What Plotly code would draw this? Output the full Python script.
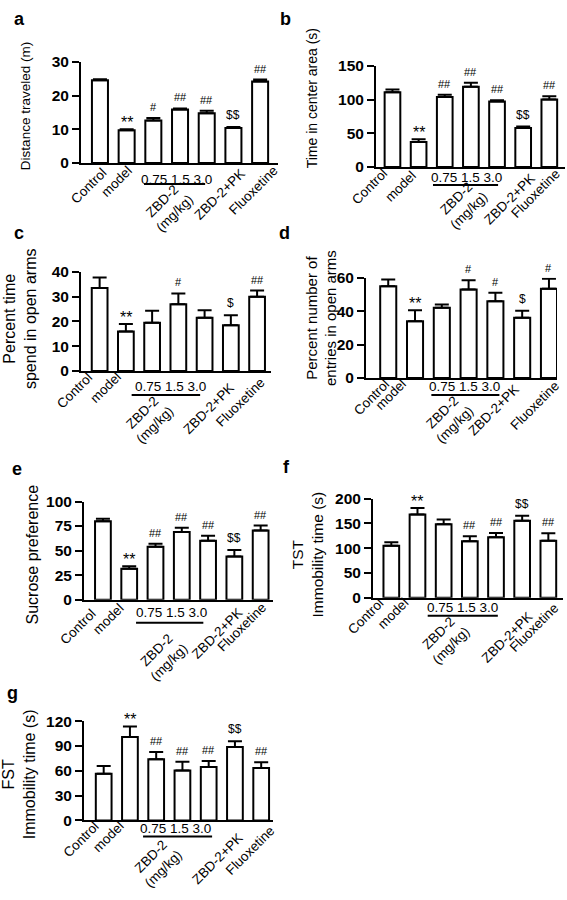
import plotly.graph_objects as go

groups = ["Control", "model", "0.75", "1.5", "3.0", "ZBD-2+PK", "Fluoxetine"]

# a: open field distance
dist_mean = [24.6, 9.7, 12.6, 15.9, 14.8, 10.4, 24.2]
dist_err = [0.3, 0.3, 0.8, 0.3, 0.7, 0.3, 0.6]
dist_sig = ["", "**", "#", "##", "##", "$$", "##"]
dist_ticks = [0, 10, 20, 30]

# b: time in center
center_mean = [111, 37, 104, 119, 97, 58, 100]
center_err = [4, 4, 3, 6, 2, 2, 5]
center_sig = ["", "**", "##", "##", "##", "$$", "##"]
center_ticks = [0, 50, 100, 150]

# c: percent time open arms
opentime_mean = [33.5, 16, 19.5, 27, 21.5, 18.5, 30]
opentime_err = [4.3, 3, 4.8, 4.3, 3, 4, 2.5]
opentime_sig = ["", "**", "", "#", "", "$", "##"]
opentime_ticks = [0, 10, 20, 30, 40]

# d: percent entries open arms
entries_mean = [55, 34, 42, 53, 46, 36, 53.5]
entries_err = [4, 6.5, 2, 5.5, 5, 4.3, 6]
entries_sig = ["", "**", "", "#", "#", "$", "#"]
entries_ticks = [0, 20, 40, 60]

# e: sucrose preference
sucrose_mean = [80, 31.5, 54, 69, 60, 44, 70.5]
sucrose_err = [2.5, 2.5, 3, 4.3, 5, 6.5, 5]
sucrose_sig = ["", "**", "##", "##", "##", "$$", "##"]
sucrose_ticks = [0, 25, 50, 75, 100]

# f: TST
tst_mean = [105, 168, 148, 114, 122, 155, 115]
tst_err = [7, 13, 10, 10, 8.5, 10.5, 15]
tst_sig = ["", "**", "", "##", "##", "$$", "##"]
tst_ticks = [0, 50, 100, 150, 200]

# g: FST
fst_mean = [56.5, 101, 74, 60.5, 64.5, 89, 63.5]
fst_err = [9.5, 12.7, 8.8, 10.5, 7.5, 6.7, 7]
fst_sig = ["", "**", "##", "##", "##", "$$", "##"]
fst_ticks = [0, 30, 60, 90, 120]

dose_label = "0.75 1.5 3.0"
rot_index = [0, 1, 2, 5, 6]
rot_text = ["Control", "model", "ZBD-2<br>(mg/kg)", "ZBD-2+PK", "Fluoxetine"]

W, H = 567, 900
FONT = "Liberation Sans, Arial, sans-serif"

# layout: plot box in px, x range, title centre/size, letter centre,
# dose text (x centre, px below axis), dose line (x0, x1, px below axis),
# rotated label pixel shifts (one per rotated label)
panels = [
    dict(letter="a", mean=dist_mean, err=dist_err, sig=dist_sig, ticks=dist_ticks,
         title="Distance traveled (m)", xpx=(81, 278), ypx=(54, 157), xr=(-0.71, 6.67),
         tpos=(25, 99), tsize=13.5, lpos=(19, 10),
         dose=(2.85, 16), dline=(1.65, 3.94, 21),
         rs=[(13, 1), (11, 3), (46, -14), (17, 0), (23, 3)]),
    dict(letter="b", mean=center_mean, err=center_err, sig=center_sig, ticks=center_ticks,
         title="Time in center area (s)", xpx=(376, 565), ypx=(58, 161), xr=(-0.63, 6.6),
         tpos=(312, 91), tsize=14, lpos=(285, 10),
         dose=(2.82, 11), dline=(1.55, 4.04, 18),
         rs=[(1, 4), (3, 2), (49, -7), (17, -1), (16, 4)]),
    dict(letter="c", mean=opentime_mean, err=opentime_err, sig=opentime_sig, ticks=opentime_ticks,
         title="Percent time<br>spend in open arms", xpx=(81, 271), ypx=(268, 369), xr=(-0.71, 6.53),
         tpos=(20, 316), tsize=16, lpos=(19, 228),
         dose=(2.69, 15), dline=(1.22, 3.83, 24),
         rs=[(-1, 4), (1, 5), (28, -17), (9, -6), (13, -1)]),
    dict(letter="d", mean=entries_mean, err=entries_err, sig=entries_sig, ticks=entries_ticks,
         title="Percent number of<br>entries in open arms", xpx=(366, 557), ypx=(274, 376), xr=(-0.83, 6.3),
         tpos=(321, 315), tsize=15, lpos=(284, 228),
         dose=(2.85, 9), dline=(1.61, 4.15, 17),
         rs=[(7, 4), (-3, 5), (38, -10), (2, -1), (16, 2)]),
    dict(letter="e", mean=sucrose_mean, err=sucrose_err, sig=sucrose_sig, ticks=sucrose_ticks,
         title="Sucrose preference", xpx=(84, 273), ypx=(502, 602), xr=(-0.72, 6.47),
         tpos=(32, 556), tsize=16, lpos=(17, 469),
         dose=(2.62, 13), dline=(1.26, 3.82, 23),
         rs=[(-1, -3), (1, 2), (38, -26), (14, -3), (11, 2)]),
    dict(letter="f", mean=tst_mean, err=tst_err, sig=tst_sig, ticks=tst_ticks,
         title="TST<br>Immobility time (s)", xpx=(373, 563), ypx=(499, 600), xr=(-0.7, 6.56),
         tpos=(307, 556), tsize=15.5, lpos=(286, 467),
         dose=(2.73, 10), dline=(1.39, 4.07, 18),
         rs=[(-2, 5), (-3, 5), (32, -11), (16, -9), (16, 0)]),
    dict(letter="g", mean=fst_mean, err=fst_err, sig=fst_sig, ticks=fst_ticks,
         title="FST<br>Immobility time (s)", xpx=(84, 273), ypx=(726, 827), xr=(-0.75, 6.45),
         tpos=(19, 780), tsize=16, lpos=(12, 697),
         dose=(2.72, 8), dline=(1.5, 4.13, 16),
         rs=[(1, 5), (0, 5), (32, -11), (14, -7), (19, 0)]),
]

fig = go.Figure()
annotations = []
shapes = []
layout_axes = {}


def px_to_paper_x(px):
    return px / W


def px_to_paper_y(py):
    return 1 - py / H


def sig_text(s):
    return s.replace("$", "&#36;")


for k, p in enumerate(panels):
    n = "" if k == 0 else str(k + 1)
    xa, ya = "x" + n, "y" + n
    xkey, ykey = "xaxis" + n, "yaxis" + n
    x0, x1 = px_to_paper_x(p["xpx"][0]), px_to_paper_x(p["xpx"][1])
    yb, yt = px_to_paper_y(p["ypx"][1]), px_to_paper_y(p["ypx"][0])
    xs = list(range(len(groups)))
    fig.add_trace(go.Bar(
        x=xs, y=p["mean"], xaxis=xa, yaxis=ya, width=0.6, name=p["letter"],
        marker=dict(color="white", line=dict(color="black", width=2)),
        error_y=dict(type="data", symmetric=False, array=p["err"],
                     arrayminus=[0] * len(groups), color="black", thickness=2, width=7),
        showlegend=False, hoverinfo="skip",
    ))
    layout_axes[xkey] = dict(domain=[x0, x1], range=list(p["xr"]), anchor=ya,
                             showline=True, linecolor="black", linewidth=2,
                             showticklabels=False, ticks="", showgrid=False, zeroline=False,
                             fixedrange=True)
    layout_axes[ykey] = dict(domain=[yb, yt], range=[0, p["ticks"][-1]], anchor=xa,
                             showline=True, linecolor="black", linewidth=2,
                             tickvals=p["ticks"], ticks="outside", ticklen=7, tickwidth=2,
                             tickcolor="black",
                             tickfont=dict(family=FONT, size=15.5, color="black", weight="bold"),
                             showgrid=False, zeroline=False, fixedrange=True)
    # significance marks
    for i, s in enumerate(p["sig"]):
        if not s:
            continue
        big = s == "**"
        dollar = "$" in s
        annotations.append(dict(
            x=i, y=p["mean"][i] + p["err"][i], xref=xa, yref=ya, text=sig_text(s), showarrow=False,
            xanchor="center", yanchor="bottom", yshift=-4 if big else 3,
            font=dict(family=FONT, size=16 if big else (12 if dollar else 11), color="black")))
    # y title
    annotations.append(dict(
        x=px_to_paper_x(p["tpos"][0]), y=px_to_paper_y(p["tpos"][1]), xref="paper", yref="paper",
        text=p["title"], textangle=-90, showarrow=False, xanchor="center", yanchor="middle",
        font=dict(family=FONT, size=p["tsize"], color="black")))
    # panel letter
    annotations.append(dict(
        x=px_to_paper_x(p["lpos"][0]), y=px_to_paper_y(p["lpos"][1]), xref="paper", yref="paper",
        text="<b>" + p["letter"] + "</b>", showarrow=False, xanchor="center", yanchor="middle",
        font=dict(family=FONT, size=18, color="black")))
    # rotated category labels
    for idx, txt, (dx, dy) in zip(rot_index, rot_text, p["rs"]):
        annotations.append(dict(
            x=idx, y=yb, xref=xa, yref="paper", text=txt, textangle=-45, showarrow=False,
            xanchor="right", yanchor="top", xshift=dx, yshift=dy, align="center",
            font=dict(family=FONT, size=13.5, color="black")))
    # dose labels and underline
    annotations.append(dict(
        x=p["dose"][0], y=yb, xref=xa, yref="paper", text=dose_label, showarrow=False,
        xanchor="center", yanchor="middle", yshift=-p["dose"][1],
        font=dict(family=FONT, size=13.5, color="black")))
    shapes.append(dict(type="line", xref=xa, yref="paper", x0=p["dline"][0], x1=p["dline"][1],
                       ysizemode="pixel", yanchor=yb, y0=-p["dline"][2], y1=-p["dline"][2],
                       line=dict(color="black", width=2)))

fig.update_layout(
    width=W, height=H, margin=dict(l=0, r=0, t=0, b=0),
    paper_bgcolor="white", plot_bgcolor="white",
    annotations=annotations, shapes=shapes, bargap=0.3,
    **layout_axes,
)
fig.write_html("out.html", config={"displayModeBar": False, "staticPlot": True},
               post_script="document.body.style.margin='0';document.body.style.padding='0';"
                           "document.body.style.overflow='hidden';")
